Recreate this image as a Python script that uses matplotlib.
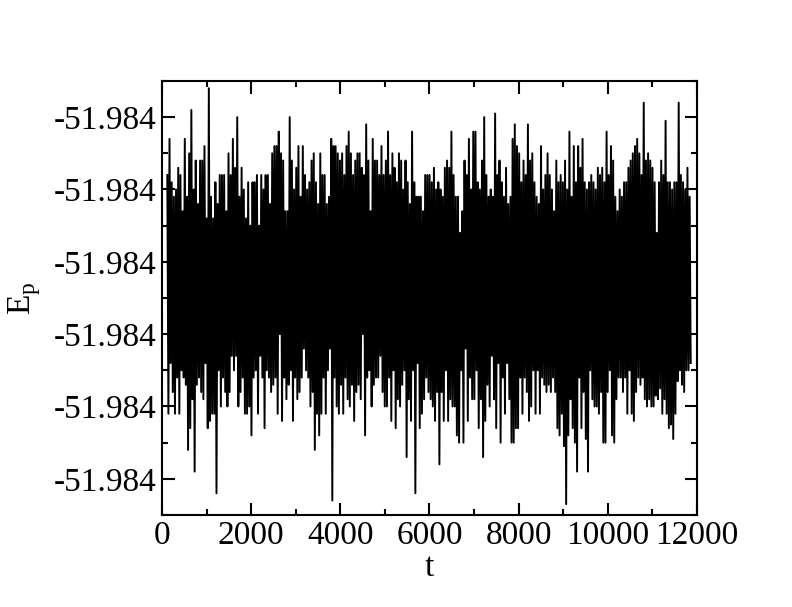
import numpy as np
import matplotlib
matplotlib.use("Agg")
import matplotlib.pyplot as plt
from matplotlib.ticker import MultipleLocator, FormatStrFormatter

# time window of the run
t_start = 120
t_end = 11860

# E_p level; peaks and troughs below are deviations in units of 1e-6
ep_base = -51.984
ep_unit = 1e-6

# upper peaks, read left to right (12 blocks of 20)
ep_hi = [
    4.2, 4.7, 4.1, 3.9, 4.0, 4.3, 4.2, 3.7, 4.7, 3.9, 4.5, 5.1, 4.0, 4.4, 3.8, 4.4, 4.4, 4.6, 3.6, 5.4,
    3.9, 3.6, 4.1, 3.8, 4.2, 4.2, 4.2, 3.7, 4.5, 4.2, 4.7, 4.3, 5.0, 3.9, 4.3, 4.0, 3.6, 4.1, 3.5, 4.1,
    4.1, 4.2, 3.5, 4.2, 4.0, 4.2, 4.2, 3.8, 4.5, 4.6, 4.6, 4.8, 4.5, 4.4, 3.7, 3.7, 5.0, 4.4, 4.0, 4.3,
    4.6, 3.9, 4.6, 4.2, 4.0, 4.1, 4.4, 4.5, 4.1, 3.8, 4.5, 4.2, 4.2, 3.8, 3.9, 4.7, 4.6, 4.6, 4.5, 4.4,
    4.5, 4.2, 4.6, 4.8, 4.5, 4.2, 4.4, 4.5, 4.5, 4.3, 4.2, 4.9, 4.4, 3.7, 4.7, 4.4, 4.4, 4.2, 4.6, 4.2,
    4.4, 4.8, 4.2, 4.5, 4.3, 4.1, 4.5, 4.4, 4.0, 4.4, 4.1, 3.8, 4.8, 4.1, 3.9, 3.9, 3.9, 3.7, 4.2, 4.2,
    4.2, 4.1, 4.3, 4.0, 4.1, 4.0, 3.9, 4.3, 4.4, 4.3, 4.8, 4.2, 3.9, 3.9, 3.4, 3.7, 4.4, 4.2, 4.7, 4.0,
    4.8, 4.8, 4.1, 4.0, 4.4, 5.0, 4.2, 3.9, 4.0, 3.9, 5.05, 4.2, 4.4, 4.1, 3.9, 4.3, 3.8, 3.9, 4.7, 4.9,
    4.6, 4.5, 4.1, 4.4, 4.2, 4.9, 4.4, 4.5, 4.1, 3.9, 3.8, 4.6, 4.0, 4.2, 4.5, 4.2, 4.0, 3.7, 4.4, 4.1,
    4.2, 4.1, 4.4, 4.0, 4.8, 3.9, 4.6, 4.1, 4.6, 4.3, 4.7, 4.1, 4.0, 4.1, 4.2, 4.1, 4.0, 4.3, 4.2, 4.3,
    4.1, 4.8, 4.2, 4.6, 4.4, 3.9, 3.7, 4.0, 3.9, 4.1, 4.1, 4.3, 4.4, 4.5, 4.6, 4.7, 4.5, 4.2, 5.2, 4.4,
    4.5, 4.4, 4.3, 4.1, 3.4, 4.1, 4.4, 4.2, 4.95, 4.1, 4.1, 4.0, 4.1, 4.1, 5.2, 4.2, 4.1, 4.0, 4.3, 3.9,
]

# lower troughs, read left to right (12 blocks of 20)
ep_lo = [
    0.9, 1.6, 1.2, 0.9, 1.4, 0.9, 1.5, 1.4, 1.3, 0.4, 0.7, 1.1, 0.1, 1.3, 1.4, 1.2, 1.1, 1.6, 0.7, 0.8,
    0.9, 0.9, -0.2, 1.5, 1.0, 1.4, 1.2, 1.0, 1.2, 1.7, 1.5, 1.7, 1.0, 1.2, 1.4, 0.9, 0.9, 1.0, 0.6, 1.4,
    1.5, 0.9, 1.7, 1.4, 0.7, 1.5, 1.4, 1.2, 1.3, 1.4, 0.9, 2.0, 0.8, 1.4, 1.1, 1.3, 1.5, 0.8, 1.4, 1.1,
    1.2, 1.4, 1.8, 1.5, 1.4, 1.0, 1.2, 0.4, 0.9, 0.6, 0.9, 1.4, 0.9, 1.5, 1.8, -0.3, 1.4, 1.0, 0.9, 1.3,
    0.9, 1.4, 1.1, 1.0, 1.3, 0.8, 1.2, 1.3, 1.1, 2.0, 0.6, 1.4, 1.5, 1.0, 1.3, 1.4, 1.4, 1.7, 1.2, 1.0,
    1.0, 1.4, 0.8, 1.5, 0.7, 1.1, 1.0, 1.3, 1.5, 0.3, 1.1, 0.8, 1.5, -0.2, 1.6, 0.7, 0.9, 1.1, 1.4, 1.2,
    1.1, 1.0, 0.8, 1.2, 0.2, 1.2, 0.8, 1.5, 0.8, 1.1, 1.0, 1.0, 0.6, 0.5, 1.5, 0.5, 1.8, 0.8, 1.4, 1.1,
    1.1, 1.5, 0.7, 1.1, 0.3, 0.8, 1.3, 1.0, 1.7, 1.1, 0.7, 1.6, 0.5, 1.4, 0.9, 1.6, 1.1, 0.5, 0.5, 0.7,
    0.7, 1.4, 0.9, 1.4, 1.2, 0.8, 1.0, 1.5, 0.9, 1.5, 0.9, 1.4, 1.3, 1.2, 1.3, 1.2, 1.4, 1.2, 0.7, 0.6,
    0.9, 0.45, -0.35, 0.6, 1.1, 0.7, 0.5, 0.1, 1.4, 0.7, 1.2, 0.55, 0.1, 1.5, 1.1, 1.0, 1.0, 0.9, 1.2, 0.5,
    0.5, 1.2, 1.5, 0.6, 0.5, 1.1, 1.4, 1.4, 1.2, 1.4, 0.9, 1.5, 0.9, 0.8, 1.2, 1.4, 1.3, 1.4, 1.1, 1.0,
    1.1, 1.0, 1.0, 1.15, 1.1, 1.25, 0.9, 1.1, 0.9, 0.7, 0.75, 0.55, 0.9, 1.35, 1.5, 1.3, 1.2, 1.5, 1.5, 1.6,
]

plt.rcParams['font.family'] = ['Liberation Serif', 'DejaVu Serif']
plt.rcParams['mathtext.fontset'] = 'custom'
plt.rcParams['mathtext.rm'] = 'Liberation Serif'

# the trace swings between successive peaks and troughs
dev = np.empty(2 * len(ep_hi))
dev[0::2] = ep_hi
dev[1::2] = ep_lo
ep = ep_base + dev * ep_unit
t = np.linspace(t_start, t_end, len(ep))

fig = plt.figure(figsize=(7.92, 6.07), dpi=100)
ax = fig.add_axes([0.2045, 0.1516, 0.6755, 0.715])
ax.plot(t, ep, color='black', lw=1.4)

ax.set_xlim(0, 12000)
ax.set_ylim(ep_base - 0.5 * ep_unit, ep_base + 5.5 * ep_unit)
ax.xaxis.set_major_locator(MultipleLocator(2000))
ax.xaxis.set_minor_locator(MultipleLocator(1000))
ax.yaxis.set_major_locator(MultipleLocator(ep_unit))
ax.yaxis.set_minor_locator(MultipleLocator(ep_unit / 2))
ax.yaxis.set_major_formatter(FormatStrFormatter('%.3f'))
ax.ticklabel_format(useOffset=False, axis='x')

ax.tick_params(which='both', direction='in', top=True, right=True, width=1.5, labelsize=24)
ax.tick_params(which='major', length=9, pad=4)
ax.tick_params(which='minor', length=4.5)
for s in ax.spines.values():
    s.set_linewidth(1.5)

ax.set_xlabel('t', fontsize=24, labelpad=1)
ax.set_ylabel(r'E$_\mathrm{p}$', fontsize=24, labelpad=8)

fig.savefig('out.png', dpi=100)
